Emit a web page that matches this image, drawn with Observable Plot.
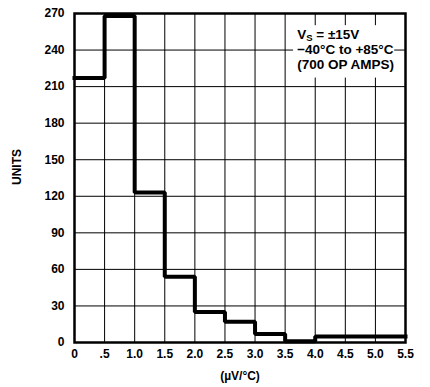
<!DOCTYPE html>
<html>
<head>
<meta charset="utf-8">
<script src="https://cdn.jsdelivr.net/npm/d3@7"></script>
<script src="https://cdn.jsdelivr.net/npm/@observablehq/plot@0.6"></script>
<style>
  html, body { margin: 0; padding: 0; background: #fff; }
  #chart svg { font-family: "Liberation Sans", Arial, sans-serif; font-weight: bold; }
</style>
</head>
<body>
<div id="chart"></div>
<script>
// Histogram bins (left edges, µV/°C) and counts (units)
const binStart = [0, 0.5, 1.0, 1.5, 2.0, 2.5, 3.0, 3.5, 4.0];
const binEnd   = [0.5, 1.0, 1.5, 2.0, 2.5, 3.0, 3.5, 4.0, 5.5];
const counts   = [217, 268, 123, 54, 25, 17, 7, 1, 5];

const xTicks = [0, 0.5, 1.0, 1.5, 2.0, 2.5, 3.0, 3.5, 4.0, 4.5, 5.0, 5.5];
const xTickLabels = ["0", ".5", "1.0", "1.5", "2.0", "2.5", "3.0", "3.5", "4.0", "4.5", "5.0", "5.5"];
const yTicks = [0, 30, 60, 90, 120, 150, 180, 210, 240, 270];

const noteLines = ["VS = ±15V", "−40°C to +85°C", "(700 OP AMPS)"];

// step path points
const stepPts = binStart.map((x, i) => ({x, y: counts[i]}));
stepPts.push({x: binEnd[binEnd.length - 1], y: counts[counts.length - 1]});

const chart = Plot.plot({
  width: 430,
  height: 387,
  marginLeft: 74,
  marginRight: 25,
  marginTop: 13,
  marginBottom: 45,
  style: {fontFamily: "'Liberation Sans', Arial, sans-serif", fontSize: "12px", fontWeight: "bold", background: "#fff", color: "#000"},
  x: {domain: [0, 5.5], ticks: xTicks, tickFormat: d => xTickLabels[xTicks.indexOf(d)], tickSize: 0, tickPadding: 7, label: "(µV/°C)", labelAnchor: "center", labelOffset: 37, labelArrow: "none"},
  y: {domain: [0, 270], ticks: yTicks, tickSize: 0, tickPadding: 10, label: "UNITS", labelAnchor: "center", labelOffset: 62, labelArrow: "none"},
  marks: [
    Plot.gridX(xTicks, {stroke: "#000", strokeOpacity: 1, strokeWidth: 1}),
    Plot.gridY(yTicks, {stroke: "#000", strokeOpacity: 1, strokeWidth: 1}),
    Plot.rect([{}], {x1: 3.64, x2: 5.32, y1: 217, y2: 260, fill: "#fff"}),
    Plot.line(stepPts, {x: "x", y: "y", curve: "step-after", stroke: "#000", strokeWidth: 4, strokeLinejoin: "miter", strokeLinecap: "square"}),
    Plot.text([noteLines.join("\n")], {x: 3.7, y: 257.5, text: d => d, textAnchor: "start", lineAnchor: "top", fontSize: 13.5, fontWeight: "bold", lineHeight: 1.1, fill: "#000", className: "note"}),
    Plot.frame({stroke: "#000", strokeWidth: 2.5})
  ]
});

document.getElementById("chart").appendChild(chart);

// subscript "S" in VS
d3.select(chart).selectAll("g.note text tspan").each(function() {
  const t = d3.select(this);
  if (t.text() === "VS = ±15V") {
    t.text("V");
    const sub = document.createElementNS("http://www.w3.org/2000/svg", "tspan");
    sub.setAttribute("dy", "2");
    sub.setAttribute("font-size", "9.5");
    sub.textContent = "S";
    const rest = document.createElementNS("http://www.w3.org/2000/svg", "tspan");
    rest.setAttribute("dy", "-2");
    rest.textContent = " = ±15V";
    this.appendChild(sub);
    this.appendChild(rest);
  }
});

// nudge the y-axis label up a little, as in the reference
d3.select(chart).selectAll('g[aria-label="y-axis label"] text').each(function() {
  const tr = this.getAttribute("transform");
  if (tr) this.setAttribute("transform", tr.replace(/translate\(([^,]+),([^)]+)\)/, (m, a, b) => `translate(${a},${(+b) - 11})`));
});
</script>
</body>
</html>
